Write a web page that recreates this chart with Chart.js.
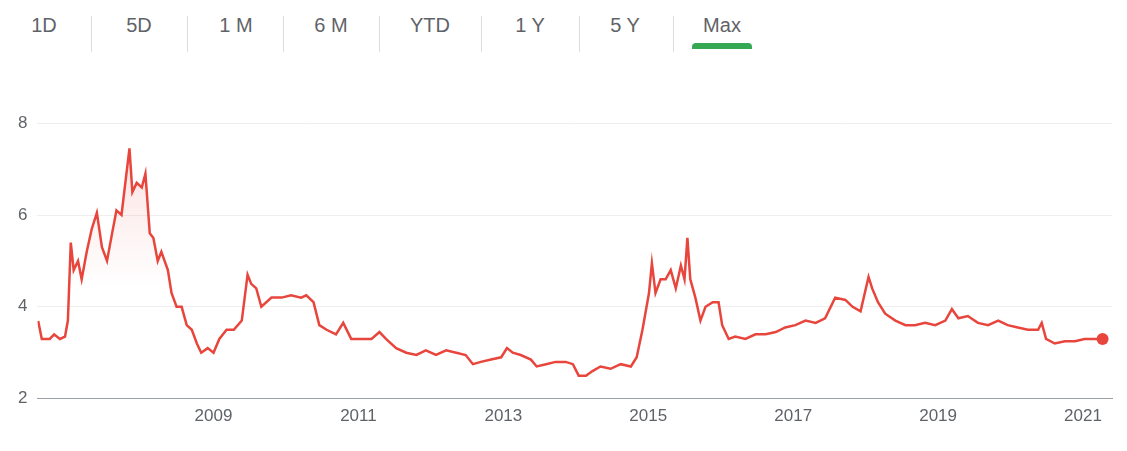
<!DOCTYPE html>
<html><head><meta charset="utf-8">
<script src="https://cdn.jsdelivr.net/npm/chart.js@4"></script>
<style>
body{margin:0;background:#fff;font-family:Arial,"Liberation Sans",sans-serif;width:1127px;height:451px;overflow:hidden;position:relative}
#tabs{position:absolute;top:10px;left:0;height:40px}
.tab{position:absolute;top:0;height:34px;line-height:30px;color:#5f6368;font-size:20px;text-align:center}
.sep{position:absolute;top:6px;width:1px;height:36px;background:#dadce0}
#ul{position:absolute;left:692px;top:43px;width:60px;height:6px;background:#34a853;border-radius:4px 4px 0 0}
#wrap{position:absolute;left:0;top:103px;width:1127px;height:332px}
</style></head><body>
<div id="tabs"></div><div id="ul"></div>
<div id="wrap"><canvas id="c"></canvas></div>
<script>
const tabLabels=["1D","5D","1 M","6 M","YTD","1 Y","5 Y","Max"];
const years=[2006.58,2006.63,2006.74,2006.80,2006.88,2006.95,2006.99,2007.03,2007.07,2007.13,2007.18,2007.25,2007.32,2007.39,2007.46,2007.53,2007.60,2007.66,2007.73,2007.79,2007.84,2007.88,2007.94,2008.01,2008.06,2008.12,2008.17,2008.23,2008.28,2008.37,2008.42,2008.49,2008.56,2008.63,2008.70,2008.77,2008.83,2008.92,2009.00,2009.08,2009.18,2009.28,2009.39,2009.47,2009.52,2009.59,2009.66,2009.80,2009.94,2010.07,2010.21,2010.28,2010.38,2010.46,2010.56,2010.69,2010.79,2010.90,2011.04,2011.18,2011.29,2011.38,2011.52,2011.66,2011.80,2011.93,2012.07,2012.21,2012.35,2012.48,2012.58,2012.69,2012.83,2012.97,2013.05,2013.13,2013.24,2013.38,2013.46,2013.59,2013.72,2013.86,2013.96,2014.04,2014.14,2014.23,2014.34,2014.48,2014.62,2014.76,2014.84,2014.92,2015.01,2015.05,2015.10,2015.17,2015.24,2015.31,2015.38,2015.45,2015.50,2015.54,2015.58,2015.65,2015.72,2015.79,2015.89,2015.97,2016.02,2016.11,2016.20,2016.34,2016.48,2016.62,2016.76,2016.89,2017.03,2017.17,2017.31,2017.44,2017.58,2017.72,2017.82,2017.93,2018.04,2018.09,2018.17,2018.27,2018.41,2018.55,2018.68,2018.82,2018.96,2019.10,2019.19,2019.28,2019.41,2019.55,2019.69,2019.83,2019.96,2020.10,2020.24,2020.38,2020.43,2020.49,2020.61,2020.75,2020.89,2021.02,2021.16,2021.27];
const prices=[3.69,3.3,3.3,3.4,3.3,3.35,3.7,5.4,4.8,5.0,4.6,5.2,5.7,6.05,5.3,5.0,5.6,6.1,6.0,6.8,7.45,6.5,6.7,6.6,6.9,5.6,5.5,5.0,5.2,4.8,4.3,4.0,4.0,3.6,3.5,3.2,3.0,3.1,3.0,3.3,3.5,3.5,3.7,4.7,4.5,4.4,4.0,4.2,4.2,4.25,4.2,4.25,4.1,3.6,3.5,3.4,3.65,3.3,3.3,3.3,3.45,3.3,3.1,3.0,2.95,3.05,2.95,3.05,3.0,2.95,2.75,2.8,2.85,2.9,3.1,3.0,2.95,2.85,2.7,2.75,2.8,2.8,2.75,2.5,2.5,2.6,2.7,2.65,2.75,2.7,2.9,3.5,4.3,4.95,4.3,4.6,4.6,4.8,4.4,4.9,4.6,5.5,4.6,4.2,3.7,4.0,4.1,4.1,3.6,3.3,3.35,3.3,3.4,3.4,3.45,3.55,3.6,3.7,3.65,3.75,4.2,4.15,4.0,3.9,4.65,4.4,4.1,3.85,3.7,3.6,3.6,3.65,3.6,3.7,3.95,3.75,3.8,3.65,3.6,3.7,3.6,3.55,3.5,3.5,3.65,3.3,3.2,3.25,3.25,3.3,3.3,3.3];
const xTicks=[2009,2011,2013,2015,2017,2019,2021];
const yTicks=[2,4,6,8];

const tabs=document.getElementById('tabs');
const tabX=[44,139,236,331,430,530,625,722];
tabLabels.forEach((t,i)=>{const d=document.createElement('div');d.className='tab';d.textContent=t;d.style.left=(tabX[i]-45)+'px';d.style.width='90px';tabs.appendChild(d);});
[91,187,283,379,481,579,673].forEach(x=>{const s=document.createElement('div');s.className='sep';s.style.left=x+'px';tabs.appendChild(s);});

const ctx=document.getElementById('c');
new Chart(ctx,{type:'line',
data:{datasets:[{data:years.map((y,i)=>({x:y,y:prices[i]})),borderColor:'#e8453c',borderWidth:2.5,tension:0,
fill:'origin',
backgroundColor:(c)=>{const a=c.chart.chartArea;if(!a)return 'rgba(0,0,0,0)';const g=c.chart.ctx.createLinearGradient(0,a.top,0,a.bottom);g.addColorStop(0,'rgba(232,69,60,0.18)');g.addColorStop(0.6,'rgba(232,69,60,0.0)');return g;},
pointRadius:(c)=>c.dataIndex===years.length-1?6:0,pointBackgroundColor:'#e8453c',pointBorderWidth:0}]},
options:{responsive:true,maintainAspectRatio:false,animation:false,
layout:{padding:{left:8,right:15,top:12,bottom:0}},
plugins:{legend:{display:false},tooltip:{enabled:false}},
scales:{
x:{type:'linear',min:2006.57,max:2021.4,
afterBuildTicks:(s)=>{s.ticks=xTicks.map(v=>({value:v}));},
ticks:{callback:v=>String(v),color:'#5f6368',font:{size:17,family:'Arial'},padding:8,maxRotation:0},
grid:{display:true,drawOnChartArea:false,drawTicks:false},border:{display:true,color:'#9aa0a6',width:1}},
y:{min:2,max:8,
afterBuildTicks:(s)=>{s.ticks=yTicks.map(v=>({value:v}));},
ticks:{color:'#5f6368',font:{size:17,family:'Arial'},padding:10},
grid:{color:'#eeeeee',drawTicks:false},border:{display:false}}}}});
</script></body></html>
